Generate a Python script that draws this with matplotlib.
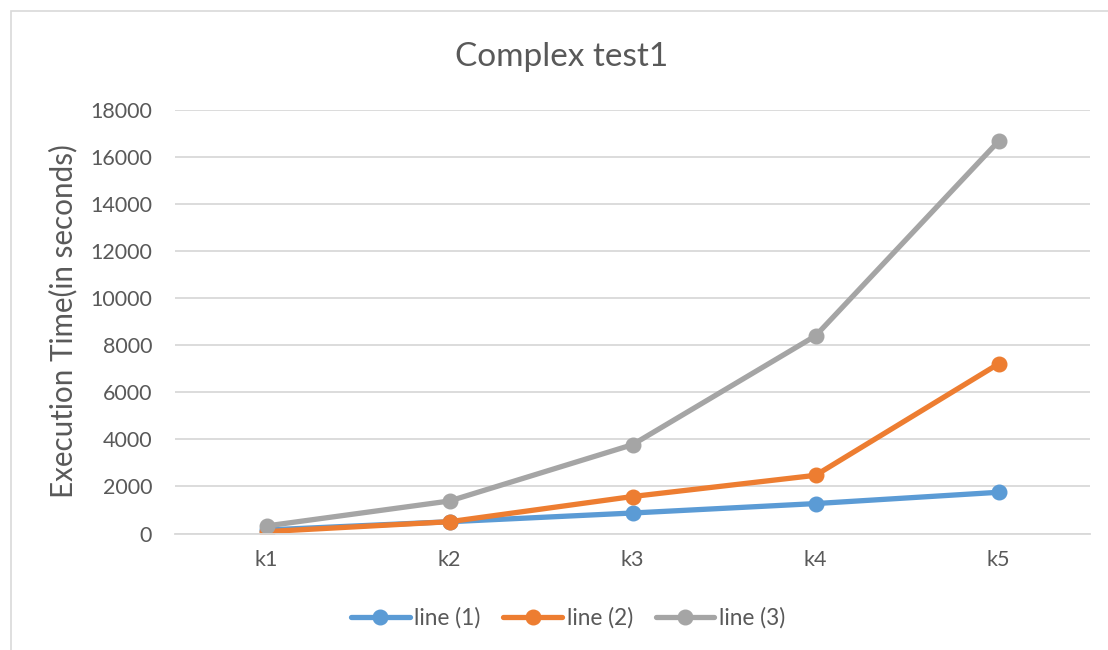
import matplotlib.pyplot as plt
from matplotlib.patches import Rectangle

categories = ['k1', 'k2', 'k3', 'k4', 'k5']
line1 = [150, 500, 870, 1270, 1750]
line2 = [80, 500, 1570, 2470, 7200]
line3 = [320, 1380, 3770, 8390, 16650]
series_names = ['line (1)', 'line (2)', 'line (3)']
colors = ['#5B9BD5', '#ED7D31', '#A5A5A5']

plt.rcParams['font.family'] = ['Lato', 'DejaVu Sans']
text_col = '#595959'

fig = plt.figure(figsize=(11.08, 6.5), dpi=100)
W, H = 1108, 650
ax = fig.add_axes([175 / W, 1 - 533.5 / H, 915 / W, (533.5 - 109.5) / H])

# chart border
fig.patches.append(Rectangle((11 / W, -0.01), 1.02, 1 - 11 / H + 0.01,
                             transform=fig.transFigure, fill=False,
                             edgecolor='#D9D9D9', linewidth=1.2))

x = range(len(categories))
for vals, name, c in zip([line1, line2, line3], series_names, colors):
    ax.plot(x, vals, color=c, linewidth=3.8, marker='o', markersize=10.5,
            label=name, solid_capstyle='round')

ax.set_xlim(-0.5, 4.5)
ax.set_ylim(0, 18000)
ax.set_yticks(range(0, 18001, 2000))
ax.set_xticks(list(x))
ax.set_xticklabels(categories)
ax.yaxis.grid(True, color='#D9D9D9', linewidth=1.3)
ax.set_axisbelow(True)
for s in ['top', 'right', 'left']:
    ax.spines[s].set_visible(False)
ax.spines['bottom'].set_color('#D9D9D9')
ax.spines['bottom'].set_linewidth(1.3)
ax.tick_params(length=0, labelsize=15.5, colors=text_col)
ax.tick_params(axis='y', pad=16.5)
ax.tick_params(axis='x', pad=12)

ax.set_ylabel('Execution Time(in seconds)', fontsize=21.3, color=text_col)
ax.yaxis.set_label_coords((77 - 175) / 915, 0.5)
fig.text(0.507, 1 - 57 / H, 'Complex test1', fontsize=24, color=text_col,
         ha='center', va='center')

leg = fig.legend(loc='center', bbox_to_anchor=(568 / W, 1 - 618 / H), ncol=3,
                 frameon=False, fontsize=16.3, handlelength=2.6,
                 handletextpad=0.2, columnspacing=1.0, labelcolor=text_col)

fig.savefig('out.png', dpi=100)
